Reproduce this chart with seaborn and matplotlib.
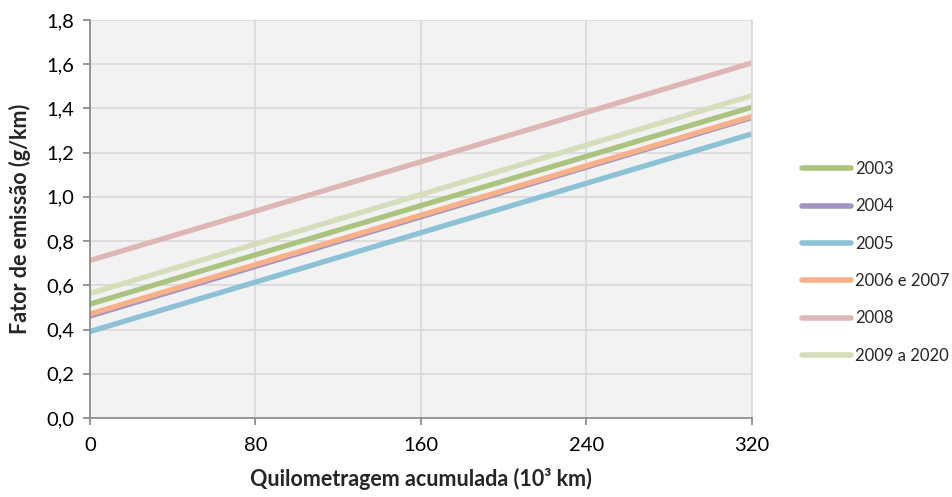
import matplotlib
matplotlib.use("Agg")
import matplotlib.pyplot as plt
from matplotlib.ticker import FuncFormatter
import seaborn as sns
import pandas as pd

# Emission factor lines: value at 0 and at 320 thousand km accumulated mileage
series = ["2003", "2004", "2005", "2006 e 2007", "2008", "2009 a 2020"]
km = [0, 320]
fe_2003 = [0.515, 1.405]
fe_2004 = [0.455, 1.352]
fe_2005 = [0.391, 1.284]
fe_2006_2007 = [0.470, 1.363]
fe_2008 = [0.712, 1.605]
fe_2009_2020 = [0.563, 1.457]
x_ticks = [0, 80, 160, 240, 320]
y_ticks = [0.0, 0.2, 0.4, 0.6, 0.8, 1.0, 1.2, 1.4, 1.6, 1.8]

colors = ["#AAC47F", "#A294C4", "#8CC1D6", "#F8B089", "#DEB6B4", "#D4DEBB"]
widths = [3.8, 2.0, 3.8, 3.8, 3.8, 3.8]

values = [fe_2003, fe_2004, fe_2005, fe_2006_2007, fe_2008, fe_2009_2020]
df = pd.DataFrame(
    [(s, k, v) for s, vals in zip(series, values) for k, v in zip(km, vals)],
    columns=["serie", "km", "fe"],
)

sns.set_theme(style="white")
plt.rcParams["font.family"] = ["Lato", "DejaVu Sans"]

fig = plt.figure(figsize=(9.52, 4.97), dpi=100)
ax = fig.add_axes([0.0945, 0.159, 0.695, 0.801])
ax.set_facecolor("#F2F2F2")

for s, c, w in zip(series, colors, widths):
    sns.lineplot(data=df[df["serie"] == s], x="km", y="fe", color=c,
                 linewidth=w, label=s, ax=ax, solid_capstyle="butt")

ax.set_xlim(0, 320)
ax.set_ylim(0, 1.8)
ax.set_xticks(x_ticks)
ax.set_yticks(y_ticks)
ax.yaxis.set_major_formatter(FuncFormatter(lambda v, p: f"{v:.1f}".replace(".", ",")))
ax.grid(True, color="#D9D9D9", linewidth=1.2)
ax.set_axisbelow(True)

ax.spines["top"].set_visible(False)
ax.spines["right"].set_color("#D9D9D9")
ax.spines["right"].set_linewidth(1.2)
for side in ["left", "bottom"]:
    ax.spines[side].set_color("#868686")
    ax.spines[side].set_linewidth(1.2)

ax.tick_params(axis="both", which="major", direction="out", length=5, width=1.2,
               color="#868686", labelsize=14.5, labelcolor="#000000", pad=6)
ax.tick_params(axis="x", pad=9)
ax.tick_params(left=True, bottom=True)

ax.set_xlabel("Quilometragem acumulada (10³ km)", fontsize=15.5,
              fontweight="bold", labelpad=10)
ax.set_ylabel("Fator de emissão (g/km)", fontsize=15.5, fontweight="bold",
              labelpad=11)

leg = ax.legend(loc="upper left", bbox_to_anchor=(1.066, 0.662), frameon=False,
                fontsize=12, handlelength=2.95, handletextpad=0.25,
                labelspacing=1.28, borderaxespad=0)
for line in leg.get_lines():
    line.set_linewidth(4)
    line.set_solid_capstyle("round")

fig.savefig("out.png", dpi=100)
